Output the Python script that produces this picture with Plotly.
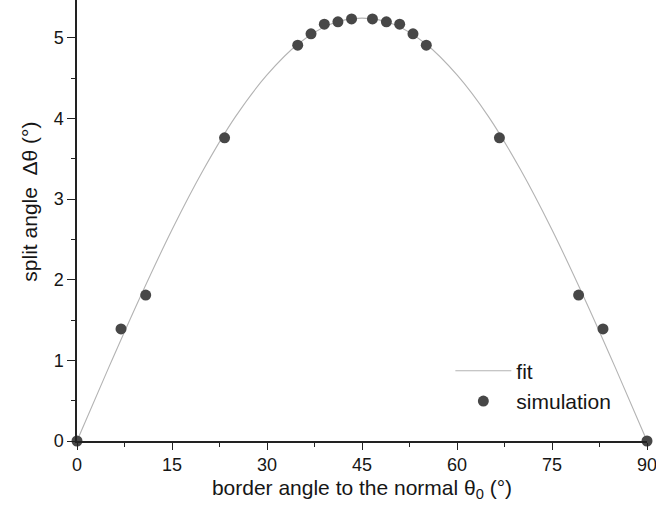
import plotly.graph_objects as go

# Simulated split angle versus border angle
sim_theta0 = [0, 6.95, 10.85, 23.3, 34.85, 36.95, 39.05, 41.2, 43.35,
              46.65, 48.85, 50.95, 53.05, 55.15, 66.7, 79.2, 83.05, 90]
sim_split = [0, 1.39, 1.81, 3.76, 4.91, 5.05, 5.17, 5.20, 5.235,
             5.235, 5.20, 5.17, 5.05, 4.91, 3.76, 1.81, 1.39, 0]

# Fit curve, sampled every 5 degrees
fit_theta0 = [0, 5, 10, 15, 20, 25, 30, 35, 40, 45,
              50, 55, 60, 65, 70, 75, 80, 85, 90]
fit_split = [0, 0.91, 1.79, 2.62, 3.37, 4.02, 4.54, 4.93, 5.17, 5.245,
             5.17, 4.93, 4.54, 4.02, 3.37, 2.62, 1.79, 0.91, 0]

x_ticks = [0, 15, 30, 45, 60, 75, 90]
y_ticks = [0, 1, 2, 3, 4, 5]

FONT = "Liberation Sans, Arial, sans-serif"
AXIS_COLOR = "#222222"
TEXT_COLOR = "#161616"

fig = go.Figure()
fig.add_trace(go.Scatter(
    x=fit_theta0, y=fit_split, name="fit", mode="lines",
    line=dict(color="#b3b3b3", width=1.1, shape="spline", smoothing=1.0),
    cliponaxis=False,
))
fig.add_trace(go.Scatter(
    x=sim_theta0, y=sim_split, name="simulation", mode="markers",
    marker=dict(color="#474747", size=11, line=dict(width=0)),
    cliponaxis=False,
))

axis_common = dict(
    showgrid=False, zeroline=False, showline=True,
    linecolor=AXIS_COLOR, linewidth=1.5,
    ticks="outside", tickcolor=AXIS_COLOR, tickwidth=1.2,
    tickfont=dict(family=FONT, size=18, color=TEXT_COLOR),
    ticklabeloverflow="allow",
)

fig.update_xaxes(
    range=[0, 90], tickvals=x_ticks, ticklen=7,
    minor=dict(dtick=7.5, ticks="outside", ticklen=4,
               tickcolor=AXIS_COLOR, tickwidth=1.2),
    title=dict(text="border angle to the normal θ<sub>0</sub> (°)",
               font=dict(family=FONT, size=21, color=TEXT_COLOR), standoff=6),
    **axis_common,
)
fig.update_yaxes(
    range=[0, 5.47], tickvals=y_ticks, ticklen=8,
    minor=dict(dtick=0.5, ticks="outside", ticklen=4,
               tickcolor=AXIS_COLOR, tickwidth=1.2),
    **axis_common,
)

# y-axis title placed as a rotated annotation
fig.add_annotation(
    text="split angle\u00a0\u00a0Δθ (°)", textangle=-90,
    xref="paper", yref="paper", x=-0.084, y=0.543,
    xanchor="center", yanchor="middle", showarrow=False,
    font=dict(family=FONT, size=21, color=TEXT_COLOR),
)

fig.update_layout(
    width=656, height=515,
    margin=dict(l=77, r=9, t=0, b=74),
    paper_bgcolor="white", plot_bgcolor="white",
    font=dict(family=FONT, color=TEXT_COLOR),
    legend=dict(x=0.655, y=0.205, xanchor="left", yanchor="top",
                bgcolor="rgba(0,0,0,0)", itemwidth=56,
                font=dict(family=FONT, size=21, color=TEXT_COLOR)),
)

fig.write_html("out.html")
